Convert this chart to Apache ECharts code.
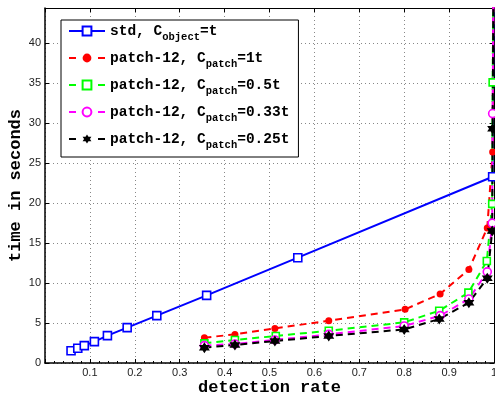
<!DOCTYPE html>
<html><head><meta charset="utf-8">
<script src="https://cdn.jsdelivr.net/npm/echarts@6/dist/echarts.min.js"></script>
<style>html,body{margin:0;padding:0;background:#fff}#c{width:495px;height:399px}</style>
</head><body><div id="c"></div>
<script>
// ---- data ----
const xTicks = [0.1,0.2,0.3,0.4,0.5,0.6,0.7,0.8,0.9,1];
const yTicks = [0,5,10,15,20,25,30,35,40];
const stdX = [0.058,0.073,0.0875,0.11,0.139,0.183,0.249,0.36,0.563,0.997,1.0];
const stdY = [1.54,1.84,2.17,2.67,3.42,4.42,5.92,8.46,13.17,23.3,60];
const p1X = [0.355,0.423,0.512,0.632,0.802,0.88,0.944,0.985,0.997,1.0];
const p1Y = [3.17,3.58,4.33,5.29,6.71,8.63,11.7,16.9,26.4,60];
const p05X = [0.355,0.423,0.514,0.632,0.80,0.878,0.943,0.984,0.996,0.997,1.0];
const p05Y = [2.46,2.88,3.38,4.04,5.08,6.54,8.8,12.75,19.9,35.1,60];
const p033X = [0.355,0.423,0.512,0.632,0.80,0.88,0.944,0.985,0.996,0.997,1.0];
const p033Y = [2.17,2.38,2.88,3.58,4.63,5.92,8.0,11.4,17.5,31.2,60];
const p025X = [0.355,0.423,0.512,0.632,0.80,0.878,0.944,0.985,0.996,0.997,1.0];
const p025Y = [1.92,2.25,2.75,3.38,4.2,5.5,7.54,10.6,16.5,29.3,60];
const seriesNames = ['std','p1','p05','p033','p025'];
const legendParts = [
  ['std, C','object','=t'],
  ['patch-12, C','patch','=1t'],
  ['patch-12, C','patch','=0.5t'],
  ['patch-12, C','patch','=0.33t'],
  ['patch-12, C','patch','=0.25t']
];
const xLabel = 'detection rate';
const yLabel = 'time in seconds';

const zip = (xs, ys) => xs.map((x,i)=>[x, ys[i]]);
const hexagram = 'path://M0,-10 L8.66,5 L-8.66,5 Z M0,10 L-8.66,-5 L8.66,-5 Z';
const mono = '"Liberation Mono", "Courier New", monospace';
const sans = '"Liberation Sans", Arial, sans-serif';

function mk(name, data, color, symbol, size, dashed, filled) {
  return {
    name, type: 'line', data, clip: true, animation: false,
    symbol, symbolSize: size, showAllSymbol: true,
    lineStyle: { color, width: 2, type: dashed ? [7,5] : 'solid' },
    itemStyle: { color: filled ? color : '#fff', borderColor: color, borderWidth: filled ? 0 : 1.6 },
    emphasis: { disabled: true }
  };
}

const chart = echarts.init(document.getElementById('c'), null, { renderer: 'canvas' });
const gridLine = { show: true, lineStyle: { color: '#888', type: [1,3], width: 1 } };
const axisLineStyle = { show: true, onZero: false, lineStyle: { color: '#000', width: 1.5 } };
chart.setOption({
  animation: false,
  backgroundColor: '#fff',
  grid: { left: 45, right: 1, top: 8, bottom: 36, outerBoundsMode: 'none', containLabel: false },
  xAxis: [{
    type: 'value', min: 0, max: 1, interval: 0.1, position: 'bottom',
    name: xLabel, nameLocation: 'middle', nameGap: 16, nameMoveOverlap: false,
    nameTextStyle: { fontFamily: mono, fontWeight: 'bold', fontSize: 17, color: '#000' },
    axisLine: axisLineStyle,
    axisTick: { show: true, inside: true, length: 4, lineStyle: { color: '#000' } },
    minorTick: { show: true, splitNumber: 5, length: 2, lineStyle: { color: '#000' } },
    axisLabel: { fontFamily: sans, fontSize: 11, color: '#222', margin: 4, hideOverlap: false,
      formatter: v => (xTicks.some(t => Math.abs(t - v) < 1e-6) ? String(+v.toFixed(1)) : '') },
    splitLine: gridLine
  }, {
    type: 'value', min: 0, max: 1, interval: 0.1, position: 'top',
    axisLine: { show: true, onZero: false, lineStyle: { color: '#000', width: 1 } },
    axisTick: { show: true, inside: true, length: 4, lineStyle: { color: '#000' } },
    axisLabel: { show: false }, splitLine: { show: false }
  }],
  yAxis: [{
    type: 'value', min: 0, max: 44.4, interval: 5, position: 'left',
    name: yLabel, nameLocation: 'middle', nameGap: 21, nameRotate: 90, nameMoveOverlap: false,
    nameTextStyle: { fontFamily: mono, fontWeight: 'bold', fontSize: 17, color: '#000' },
    axisLine: axisLineStyle,
    axisTick: { show: true, inside: true, length: 4, lineStyle: { color: '#000' } },
    axisLabel: { fontFamily: sans, fontSize: 11, color: '#222', margin: 4,
      formatter: v => (yTicks.indexOf(v) >= 0 ? String(v) : '') },
    splitLine: gridLine
  }, {
    type: 'value', min: 0, max: 44.4, interval: 5, position: 'right',
    axisLine: { show: true, onZero: false, lineStyle: { color: '#000', width: 1 } },
    axisTick: { show: true, inside: true, length: 4, lineStyle: { color: '#000' } },
    axisLabel: { show: false }, splitLine: { show: false }
  }],
  legend: {
    data: seriesNames.map((n, i) => i === 0 ? { name: n } : { name: n, lineStyle: { type: [7, 22] } }),
    orient: 'vertical', left: 61, top: 20,
    padding: [4, 9, 6, 7], itemGap: 8, itemWidth: 36, itemHeight: 11,
    backgroundColor: '#fff', borderColor: '#000', borderWidth: 1,
    selectedMode: false,
    formatter: name => {
      const p = legendParts[seriesNames.indexOf(name)];
      return '{a|' + p[0] + '}{s|' + p[1] + '}{a|' + p[2] + '}';
    },
    textStyle: {
      color: '#000',
      rich: {
        a: { fontFamily: mono, fontWeight: 'bold', fontSize: 14.5, lineHeight: 14, verticalAlign: 'top', color: '#000' },
        s: { fontFamily: mono, fontWeight: 'bold', fontSize: 10.5, lineHeight: 12, padding: [8,0,0,0], verticalAlign: 'top', color: '#000' }
      }
    }
  },
  series: [
    mk('std', zip(stdX, stdY), '#0000ff', 'rect', 8, false, false),
    mk('p1', zip(p1X, p1Y), '#ff0000', 'circle', 7, true, true),
    mk('p05', zip(p05X, p05Y), '#00ff00', 'rect', 7, true, false),
    mk('p033', zip(p033X, p033Y), '#ff00ff', 'circle', 8, true, false),
    mk('p025', zip(p025X, p025Y), '#000000', hexagram, 11, true, true)
  ]
});
</script></body></html>
